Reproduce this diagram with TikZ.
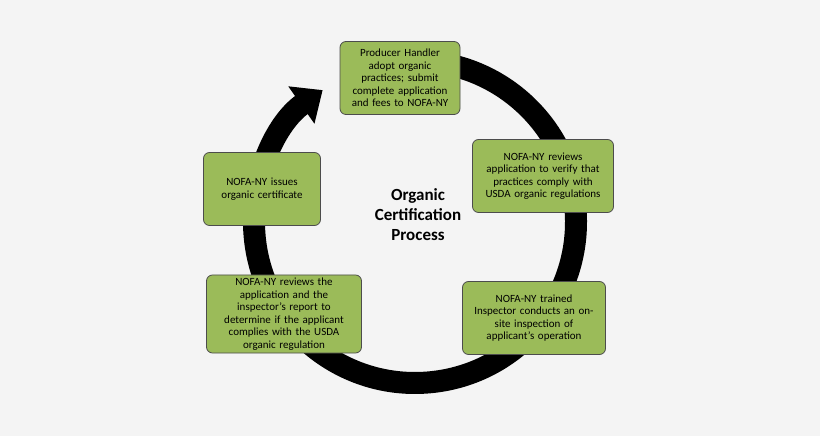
\documentclass[tikz,border=0pt]{standalone}
\usepackage{fontspec}
\setmainfont{Carlito}
\usetikzlibrary{arrows.meta, calc}
\definecolor{stepgreen}{HTML}{9BBB59}
\definecolor{backgray}{HTML}{F4F4F4}
\tikzset{
	phase/.style={draw=black!70, fill=stepgreen, rounded corners=6pt, thick,
		align=center, font=\fontsize{11}{12.5}\selectfont, inner sep=3pt, minimum height=73pt},
	ring/.style={line width=22pt, -{Triangle[width=44pt,length=26pt]}}
}
\begin{document}
	\begin{tikzpicture}[x=1pt, y=1pt]
		\fill[backgray] (0,0) rectangle (820,436);
		\useasboundingbox (0,0) rectangle (820,436);

		% cycle ring
		\coordinate (mid) at (415,214);
		\draw[ring] ($(mid)+(455:161)$) arc (455:125:161);

		\node[phase, text width=114pt] (apply) at (400,358) {Producer Handler\\adopt organic\\practices; submit\\complete application\\and fees to NOFA-NY};
		\node[phase, text width=135pt] (review) at (543,260) {NOFA-NY reviews\\application to verify that\\practices comply with\\USDA organic regulations};
		\node[phase, text width=137pt] (inspect) at (534,118) {NOFA-NY trained\\Inspector conducts an on-\\site inspection of\\applicant's operation};
		\node[phase, text width=149pt] (decide) at (284,122) {NOFA-NY reviews the\\application and the\\inspector's report to\\determine if the applicant\\complies with the USDA\\organic regulation};
		\node[phase, text width=111pt] (issue) at (262,247) {NOFA-NY issues\\organic certificate};

		\node[align=center, font=\fontsize{17}{20}\selectfont\bfseries] (title) at (418,221) {Organic\\Certification\\Process};
	\end{tikzpicture}
\end{document}
